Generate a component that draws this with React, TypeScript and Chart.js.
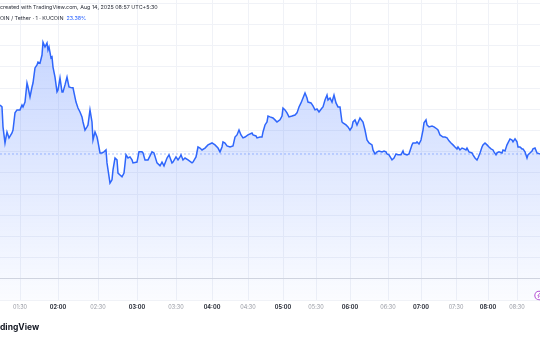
import React, { useEffect, useRef } from 'react';
import { Chart, registerables } from 'chart.js';

Chart.register(...registerables);

// Bar index (time-scale position) of each sampled close, and the closes (price-scale units)
const bars = [
  0, 2, 3, 5, 7, 9, 12, 13, 15, 17, 20, 22, 23, 25, 27, 28, 30, 32, 33, 35,
  37, 38, 40, 42, 43, 45, 47, 48, 49, 51, 52, 53, 55, 57, 58, 60, 62, 63, 65, 67,
  69, 72, 73, 76, 78, 80, 82, 83, 85, 87, 88, 90, 92, 93, 95, 97, 98, 100, 102, 104,
  106, 107, 110, 112, 113, 115, 117, 118, 120, 122, 124, 126, 128, 130, 132, 133, 137, 139, 142, 143,
  145, 148, 152, 154, 157, 160, 162, 164, 167, 169, 172, 173, 176, 178,
  180, 181, 183, 185, 188, 192, 193, 196, 198, 200, 202, 205, 208, 212, 215, 218, 220, 222, 223, 225,
  227, 230, 233, 235, 237, 239, 241, 243, 245, 248, 252, 253, 256, 257, 260, 262, 263, 265, 267, 268,
  270, 273, 275, 277, 280, 282, 283, 285, 287, 289, 292, 295, 297, 299, 301, 303, 305, 307, 308, 311,
  313, 315, 317, 319, 322, 323, 325, 327, 328, 330, 332, 334, 336, 338, 340, 342, 343, 346, 348, 350,
  352, 353, 355, 357,
  360, 363, 365, 367, 369, 372, 373, 375, 377, 379, 382, 384, 386, 387, 389, 392, 394, 396, 398, 401,
  403, 404, 407, 409, 412, 413, 416, 417, 419, 421, 423, 424, 426, 427, 429, 432, 434, 437, 438, 440,
  443, 445, 447, 449, 451, 453, 455, 457, 458, 460, 462, 464, 466, 467, 469, 472, 473, 475, 477, 478,
  480, 482, 483, 485, 487, 489, 491, 493, 494, 496, 497, 499, 502, 503, 505, 507, 508, 510, 512, 513,
  515, 517, 518, 520, 522, 523, 525, 527, 528, 530, 532, 533, 535, 537, 540,
];

const prices = [
  8.2, 8.11, 7.17, 6.41, 6.93, 6.65, 6.88, 7.02, 7.83, 7.97, 7.97, 8.2, 8.11, 8.34, 9.24, 9.05, 8.58, 9.05, 9.24, 9.95,
  10.09, 10.23, 10.18, 10.56, 11.17, 10.94, 11.13, 10.8, 10.94, 10.42, 10.47, 9.99, 9.52, 8.82, 8.91, 9.48, 8.82, 8.82, 9.15, 9.52,
  9.05, 9.01, 9.01, 8.34, 8.06, 7.87, 7.64, 7.4, 7.02, 7.17, 7.26, 7.97, 7.4, 6.55, 6.93, 6.69, 6.46, 5.94, 5.94, 5.99,
  6.08, 5.47, 4.52, 4.67, 5.14, 5.7, 5.61, 4.99, 4.9, 4.81, 4.99, 5.85, 5.7, 5.75, 5.61, 5.47, 5.51, 5.99, 5.99, 5.94,
  5.61, 5.61, 5.99, 5.94, 5.47, 5.33, 5.51, 5.33, 5.7, 5.85, 5.47, 5.51, 5.75, 5.61,
  5.75, 5.85, 5.61, 5.7, 5.61, 5.47, 5.51, 5.75, 6.22, 6.17, 6.08, 6.17, 6.32, 6.41, 6.32, 6.17, 5.99, 6.22, 6.46, 6.41,
  6.27, 6.22, 6.27, 6.69, 6.79, 7.02, 6.79, 6.65, 6.69, 6.79, 6.88, 6.79, 6.74, 6.65, 6.69, 6.69, 6.93, 7.26, 7.4, 7.68,
  7.64, 7.59, 7.5, 7.4, 7.5, 7.68, 8.06, 7.97, 7.83, 7.64, 7.68, 7.73, 7.83, 8.11, 8.3, 8.53, 8.77, 8.53, 8.34, 8.3,
  8.16, 7.97, 8.01, 7.87, 8.06, 8.11, 8.44, 8.67, 8.44, 8.53, 8.34, 8.67, 8.3, 8.11, 8.11, 7.4, 7.36, 7.26, 7.17, 7.02,
  7.17, 7.4, 7.5, 7.26,
  7.59, 7.4, 7.02, 6.55, 6.41, 6.32, 6.08, 5.89, 5.99, 6.03, 5.99, 6.03, 5.99, 5.89, 5.85, 5.61, 5.7, 5.89, 5.85, 5.85,
  6.03, 5.89, 5.85, 5.89, 6.32, 6.41, 6.41, 6.46, 6.36, 6.55, 7.02, 7.36, 7.5, 7.26, 7.17, 7.21, 7.17, 7.07, 7.02, 6.79,
  6.69, 6.69, 6.65, 6.51, 6.41, 6.32, 6.22, 6.13, 6.22, 6.08, 6.17, 6.13, 6.08, 6.17, 5.99, 5.94, 5.85, 5.7, 5.61, 5.7,
  5.94, 6.22, 6.32, 6.41, 6.32, 6.22, 6.13, 6.08, 5.99, 5.85, 5.94, 5.99, 5.94, 6.08, 6.03, 6.32, 6.41, 6.6, 6.55, 6.46,
  6.6, 6.46, 6.22, 6.22, 6.13, 6.13, 5.99, 5.7, 5.85, 5.94, 6.03, 6.13, 6.17, 5.94, 5.89,
];

const baseValue = 5.89; // previous-close reference (dotted)
const zeroLevel = 0; // darker horizontal rule
const tickBars = [20, 58, 98, 137, 176, 212, 248, 283, 316, 350, 388, 421, 456, 488, 517];
const tickLabels = ['01:30', '02:00', '02:30', '03:00', '03:30', '04:00', '04:30', '05:00', '05:30', '06:00', '06:30', '07:00', '07:30', '08:00', '08:30'];
const barRange = [0, 540];
const priceRange = [-1, 13.156];

const headerLine1 = 'created with TradingView.com, Aug 14, 2025 08:57 UTC+5:30';
const headerLine2 = 'OIN / Tether · 1 · KUCOIN';
const changeText = '23.38%';
const footerText = 'dingView';

const FONT = 'Inter, "Noto Sans", sans-serif';

const iconPlugin = {
  id: 'eventIcon',
  afterDraw(chart: any) {
    const { ctx, chartArea } = chart;
    const cx = chartArea.right - 1;
    const cy = chartArea.bottom - 4.5;
    ctx.save();
    ctx.beginPath();
    ctx.arc(cx, cy, 4.2, 0, Math.PI * 2);
    ctx.fillStyle = '#ffffff';
    ctx.fill();
    ctx.lineWidth = 1.1;
    ctx.strokeStyle = '#b75ad6';
    ctx.stroke();
    ctx.beginPath();
    ctx.moveTo(cx + 0.8, cy - 2.4);
    ctx.lineTo(cx - 1.2, cy + 0.4);
    ctx.lineTo(cx + 0.3, cy + 0.4);
    ctx.lineTo(cx - 0.8, cy + 2.4);
    ctx.strokeStyle = '#b75ad6';
    ctx.lineWidth = 0.9;
    ctx.stroke();
    ctx.restore();
  },
};

export default function App() {
  const canvasRef = useRef<HTMLCanvasElement | null>(null);

  useEffect(() => {
    document.body.style.margin = '0';
    const canvas = canvasRef.current;
    if (!canvas) return;
    const n = Math.min(bars.length, prices.length);
    const points = [];
    for (let i = 0; i < n; i++) points.push({ x: bars[i], y: prices[i] });

    const chart = new Chart(canvas, {
      type: 'line',
      data: {
        datasets: [
          {
            data: points,
            borderColor: '#2f66fb',
            borderWidth: 1.5,
            pointRadius: 0,
            tension: 0,
            fill: 'start',
            backgroundColor: (c: any) => {
              const area = c.chart.chartArea;
              if (!area) return 'rgba(41,98,255,0.15)';
              const g = c.chart.ctx.createLinearGradient(0, area.top, 0, area.bottom);
              g.addColorStop(0, 'rgba(41,98,255,0.30)');
              g.addColorStop(1, 'rgba(41,98,255,0.02)');
              return g;
            },
            order: 1,
          },
          {
            data: [
              { x: barRange[0], y: baseValue },
              { x: barRange[1], y: baseValue },
            ],
            borderColor: 'rgba(41,98,255,0.4)',
            borderWidth: 1,
            borderDash: [2, 2],
            pointRadius: 0,
            fill: false,
            order: 2,
          },
        ],
      },
      options: {
        animation: false,
        responsive: false,
        maintainAspectRatio: false,
        layout: { padding: 0 },
        plugins: { legend: { display: false }, tooltip: { enabled: false }, title: { display: false } },
        scales: {
          x: {
            type: 'linear',
            min: barRange[0],
            max: barRange[1],
            border: { display: false },
            grid: { color: '#f0f2f7', lineWidth: 1, drawTicks: false },
            afterBuildTicks: (scale: any) => {
              scale.ticks = tickBars.map((v) => ({ value: v }));
            },
            afterFit: (scale: any) => {
              scale.height = 40;
            },
            ticks: {
              autoSkip: false,
              maxRotation: 0,
              padding: 4,
              callback: (_v: any, i: number) => tickLabels[i],
              color: (c: any) => (tickLabels[c.index] && tickLabels[c.index].endsWith(':00') ? '#2a2e39' : '#9598a1'),
              font: (c: any) => ({
                family: FONT,
                size: 5.5,
                weight: tickLabels[c.index] && tickLabels[c.index].endsWith(':00') ? 'bold' : 'normal',
              }),
            },
          },
          y: {
            type: 'linear',
            min: priceRange[0],
            max: priceRange[1],
            border: { display: false },
            grid: {
              drawTicks: false,
              lineWidth: 1,
              color: (c: any) => (c.tick && c.tick.value === zeroLevel ? '#d6d8de' : '#f0f2f7'),
            },
            ticks: { display: false, stepSize: 1, includeBounds: false },
            afterFit: (scale: any) => {
              scale.width = 0;
            },
          },
        },
      },
      plugins: [iconPlugin],
    });
    return () => chart.destroy();
  }, []);

  const textBase: React.CSSProperties = {
    position: 'absolute',
    left: 0,
    whiteSpace: 'nowrap',
    fontFamily: FONT,
    lineHeight: 1,
  };

  return (
    <div style={{ position: 'relative', width: 540, height: 340, overflow: 'hidden', background: '#ffffff' }}>
      <canvas ref={canvasRef} width={540} height={340} style={{ display: 'block', width: 540, height: 340 }} />
      <div style={{ ...textBase, top: 4.5, fontSize: 5.4, color: '#2a2e39' }}>{headerLine1}</div>
      <div style={{ ...textBase, top: 16, fontSize: 5.4, color: '#2a2e39' }}>
        {headerLine2}
        <span style={{ color: '#2962ff', marginLeft: 3 }}>{changeText}</span>
      </div>
      <div style={{ ...textBase, top: 322.5, fontSize: 8.5, fontWeight: 700, color: '#131722' }}>{footerText}</div>
    </div>
  );
}
